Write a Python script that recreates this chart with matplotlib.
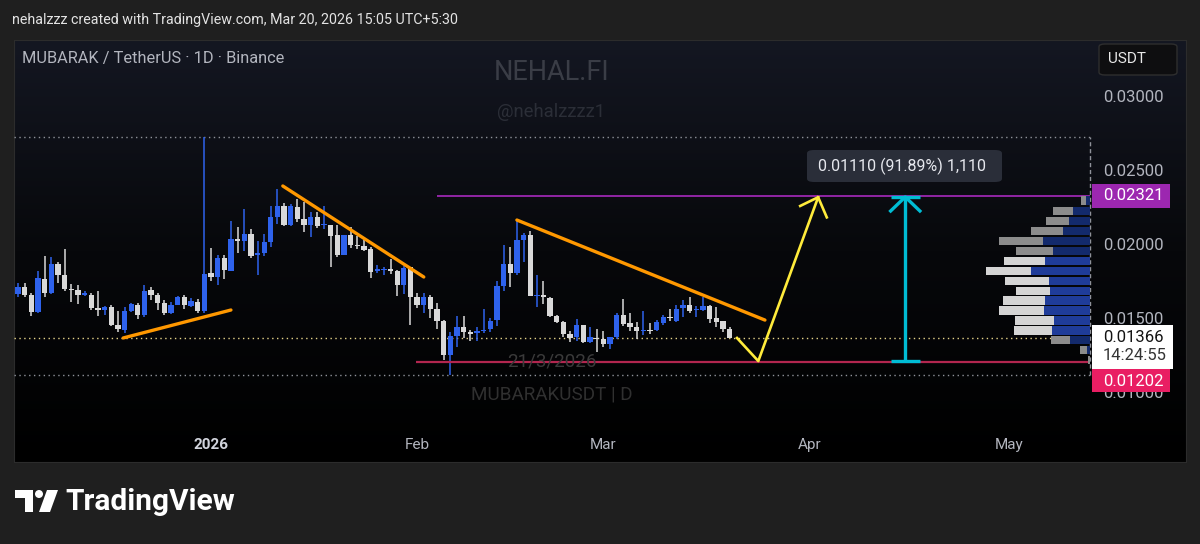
import numpy as np
import pandas as pd
import matplotlib
matplotlib.use('Agg')
import matplotlib.pyplot as plt
import matplotlib.dates as mdates
from matplotlib.colors import LinearSegmentedColormap
from matplotlib.patches import Rectangle, FancyBboxPatch, Polygon, Ellipse

plt.rcParams['font.family'] = ['Roboto', 'DejaVu Sans']

# daily candles, MUBARAK/USDT
dates = pd.date_range('2025-12-03', periods=108, freq='D')
opens = [.01662, .01707, .01658, .01541, .01766, .01667, .01865, .01793, .01698, .01689,
         .01658, .01658, .01568, .01554, .01577, .01455, .01419, .01550, .01590, .01518,
         .01689, .01658, .01599, .01532, .01590, .01644, .01581, .01608, .01545, .01802,
         .01779, .01905, .01820, .02032, .02018, .02068, .01928, .01937, .02014, .02180,
         .02257, .02131, .02252, .02171, .02131, .02180, .02127, .02126, .02059, .01928,
         .02059, .01996, .01987, .01969, .01820, .01825, .01829, .01816, .01726, .01842,
         .01644, .01590, .01640, .01563, .01482, .01248, .01378, .01437, .01405, .01396,
         .01410, .01424, .01487, .01716, .01865, .01802, .02027, .02059, .01649, .01653,
         .01635, .01514, .01473, .01392, .01369, .01450, .01338, .01365, .01360, .01324,
         .01369, .01522, .01464, .01437, .01414, .01419, .01419, .01469, .01509, .01482,
         .01568, .01586, .01551, .01554, .01581, .01500, .01477, .01423]
highs = [.01739, .01739, .01671, .01820, .01919, .01910, .01879, .01964, .01730, .01721,
         .01685, .01671, .01685, .01581, .01590, .01550, .01572, .01604, .01599, .01721,
         .01707, .01667, .01622, .01608, .01649, .01653, .01635, .01626, .02721, .01973,
         .01923, .01928, .02153, .02118, .02239, .02099, .02018, .02068, .02257, .02374,
         .02279, .02270, .02306, .02284, .02216, .02216, .02257, .02131, .02131, .02059,
         .02117, .02054, .02027, .01978, .01856, .01847, .01897, .01825, .01852, .01847,
         .01671, .01671, .01658, .01604, .01486, .01403, .01514, .01514, .01419, .01441,
         .01563, .01500, .01752, .01996, .01978, .02167, .02077, .02086, .01788, .01748,
         .01640, .01518, .01477, .01410, .01491, .01455, .01437, .01423, .01410, .01374,
         .01532, .01626, .01532, .01473, .01550, .01469, .01487, .01518, .01563, .01586,
         .01622, .01644, .01581, .01644, .01586, .01577, .01479, .01437]
lows = [.01644, .01640, .01514, .01536, .01644, .01662, .01734, .01680, .01608, .01595,
        .01649, .01554, .01514, .01518, .01446, .01406, .01397, .01541, .01491, .01505,
        .01622, .01554, .01523, .01527, .01586, .01563, .01572, .01536, .01532, .01752,
        .01721, .01766, .01815, .01937, .01955, .01906, .01789, .01919, .01982, .02135,
        .02122, .02122, .02149, .02081, .02050, .02108, .02104, .01847, .01910, .01924,
        .01973, .01964, .01951, .01770, .01802, .01789, .01798, .01649, .01662, .01451,
        .01568, .01536, .01500, .01424, .01216, .01115, .01306, .01365, .01347, .01347,
        .01396, .01406, .01446, .01680, .01712, .01788, .01878, .01649, .01577, .01595,
        .01505, .01464, .01374, .01338, .01347, .01329, .01334, .01270, .01302, .01293,
        .01360, .01446, .01410, .01360, .01383, .01392, .01410, .01451, .01482, .01473,
        .01509, .01532, .01509, .01550, .01464, .01442, .01405, .01365]
closes = [.01707, .01658, .01541, .01770, .01671, .01865, .01793, .01698, .01689, .01653,
          .01667, .01568, .01554, .01577, .01455, .01424, .01550, .01595, .01518, .01680,
          .01658, .01599, .01532, .01590, .01640, .01590, .01613, .01545, .01797, .01779,
          .01905, .01824, .02032, .02023, .02068, .01919, .01937, .02014, .02180, .02257,
          .02131, .02257, .02171, .02131, .02180, .02122, .02136, .02054, .01928, .02059,
          .01996, .01987, .01960, .01811, .01829, .01834, .01816, .01726, .01838, .01644,
          .01590, .01640, .01563, .01482, .01248, .01378, .01437, .01405, .01392, .01414,
          .01419, .01478, .01716, .01865, .01802, .02027, .02063, .01649, .01658, .01640,
          .01514, .01473, .01392, .01365, .01450, .01338, .01374, .01356, .01324, .01369,
          .01522, .01460, .01442, .01414, .01419, .01414, .01473, .01509, .01500, .01563,
          .01586, .01545, .01560, .01581, .01496, .01473, .01423, .01366]

# drawings: (days after 1 Jan 2026, price)
trend1_d, trend1_p = [-13.2, 3.0], [0.01365, 0.01554]
trend2_d, trend2_p = [10.8, 32.0], [0.02392, 0.01777]
trend3_d, trend3_p = [46.0, 83.3], [0.02162, 0.01486]
path_d, path_p = [79.1, 82.3, 91.3], [0.01365, 0.01209, 0.02316]
head_d, head_p = [88.6, 91.3, 92.6], [0.02257, 0.02316, 0.02180]
measure_d = 104.4
measure_lo, measure_hi = 0.01208, 0.02318
resist, resist_from = 0.02321, 34.0
support, support_from = 0.01202, 30.8
last_price = 0.01366
range_hi, range_lo = 0.02721, 0.01115

# volume profile rows
vp_prices = [0.02293, 0.02223, 0.02155, 0.02088, 0.02020, 0.01953, 0.01885, 0.01818, 0.01750,
             0.01682, 0.01620, 0.01552, 0.01484, 0.01417, 0.01351, 0.01284, 0.01216]
vp_up = [4, 17, 21, 27, 47, 37, 45, 59, 41, 40, 45, 46, 36, 38, 20, 3, 0]
vp_down = [5, 20, 23, 32, 44, 37, 41, 45, 44, 34, 42, 45, 39, 38, 19, 7, 2]
vp_in_value_area = [False] * 6 + [True] * 8 + [False] * 3

price_ticks = [0.010, 0.015, 0.020, 0.025, 0.030]
month_ticks = ['2026-01-01', '2026-02-01', '2026-03-01', '2026-04-01', '2026-05-01']
month_labels = ['2026', 'Feb', 'Mar', 'Apr', 'May']

W, H = 1200, 544
fig = plt.figure(figsize=(12, 5.44), dpi=100)
fig.patch.set_facecolor('#1f1f1f')


def fx(x):
    return x / W


def fy(y):
    return 1 - y / H


# chart panel
bg = fig.add_axes([fx(14), fy(462), (1186 - 14) / W, (462 - 40) / H])
cmap = LinearSegmentedColormap.from_list('panel', ['#141722', '#07080b', '#000000'])
bg.imshow(np.linspace(0, 1, 256)[:, None], aspect='auto', cmap=cmap, extent=[0, 1, 0, 1])
bg.set_xticks([])
bg.set_yticks([])
for s in bg.spines.values():
    s.set_color('#2c2c2c')

ax = fig.add_axes([fx(14), fy(425), (1092 - 14) / W, (425 - 40) / H])
ax.set_facecolor('none')
for s in ax.spines.values():
    s.set_visible(False)

jan1 = mdates.date2num(pd.Timestamp('2026-01-01'))
xs = mdates.date2num(dates)
o, h, l, c = map(np.array, (opens, highs, lows, closes))
up = c >= o
cols = np.where(up, '#2e62ec', '#d9d9d9')
ax.vlines(xs, l, h, colors=cols, lw=1.1, zorder=3)
body_lo = np.minimum(o, c)
body_h = np.maximum(np.abs(c - o), 0.00004)
ax.bar(xs, body_h, bottom=body_lo, width=0.8, color=cols, linewidth=0, zorder=4)

right_end = jan1 + 132.2
left_end = jan1 - 29.6
ax.hlines([range_hi, range_lo], left_end, right_end, colors='#8f929a', lw=1, linestyles=(0, (1, 2.5)), zorder=2)
ax.hlines(last_price, left_end, right_end, colors='#e6d48a', lw=1, linestyles=(0, (1, 2.5)), zorder=2)
ax.vlines(right_end, range_lo, range_hi, colors='#8f929a', lw=1, linestyles=(0, (3, 2)), zorder=2)

ax.hlines(resist, jan1 + resist_from, right_end, colors='#9c27b0', lw=1.3, zorder=5)
ax.hlines(support, jan1 + support_from, right_end, colors='#b3264f', lw=1.6, zorder=5)

for d, p in [(trend1_d, trend1_p), (trend2_d, trend2_p), (trend3_d, trend3_p)]:
    ax.plot(jan1 + np.array(d), p, color='#ff9800', lw=2.4, solid_capstyle='round', zorder=6)
ax.plot(jan1 + np.array(path_d), path_p, color='#ffeb3b', lw=1.9, zorder=6)
ax.plot(jan1 + np.array(head_d), head_p, color='#ffeb3b', lw=1.9, zorder=6)

mx = jan1 + measure_d
ax.vlines(mx, measure_lo, measure_hi, colors='#00bcd4', lw=2.4, zorder=6)
ax.hlines([measure_lo, measure_hi], mx - 2.2, mx + 2.2, colors='#00bcd4', lw=2.4, zorder=6)
ax.plot([mx - 2.2, mx, mx + 2.2], [measure_hi - 0.00095, measure_hi, measure_hi - 0.00095],
        color='#00bcd4', lw=2.4, zorder=6)

ax.set_xlim(jan1 - 29.62, jan1 + 132.48)
ax.set_ylim(0.00777, 0.033784)
ax.yaxis.tick_right()
ax.set_yticks(price_ticks)
ax.set_yticklabels(['%.5f' % t for t in price_ticks])
ax.tick_params(axis='y', length=0, pad=8, labelsize=12, labelcolor='#b2b5be')
ax.set_xticks(mdates.date2num(pd.to_datetime(month_ticks)))
ax.set_xticklabels(month_labels)
ax.tick_params(axis='x', length=0, pad=9.5, labelsize=11, labelcolor='#b2b5be')
ax.get_xticklabels()[0].set_fontweight('bold')
ax.get_xticklabels()[0].set_color('#d1d4dc')

# volume profile, anchored at the right edge
vp = fig.add_axes(ax.get_position(), sharey=ax)
vp.set_facecolor('none')
vp.set_xlim(1076, -2)
vp.axis('off')
up_cols = ['#1f3c99' if v else '#132a6c' for v in vp_in_value_area]
dn_cols = ['#d4d4d4' if v else '#8c8c8c' for v in vp_in_value_area]
vp.barh(vp_prices, vp_up, height=0.00058, color=up_cols, linewidth=0, zorder=3)
vp.barh(vp_prices, vp_down, left=vp_up, height=0.00058, color=dn_cols, linewidth=0, zorder=3)
ax.set_ylim(0.00777, 0.033784)

# texts
fig.text(fx(12), fy(20), 'nehalzzz created with TradingView.com, Mar 20, 2026 15:05 UTC+5:30',
         fontsize=10.3, color='#e3e3e3', va='center')
fig.text(fx(22), fy(58), 'MUBARAK / TetherUS · 1D · Binance', fontsize=11.8, color='#b2b5be', va='center')
fig.text(fx(552), fy(73), 'NEHAL.FI', fontsize=19.5, color='#3a3d46', ha='center', va='center')
fig.text(fx(551), fy(112), '@nehalzzzz1', fontsize=13.3, color='#2b2e37', ha='center', va='center')
fig.text(fx(552), fy(362), '21/3/2026', fontsize=13.5, color='#3a3a3a', ha='center', va='center')
fig.text(fx(552), fy(394), 'MUBARAKUSDT | D', fontsize=13.6, color='#303030', ha='center', va='center')

fig.patches.append(FancyBboxPatch((fx(1099), fy(75)), (1177 - 1099) / W, 31 / H,
                                  boxstyle='round,pad=0,rounding_size=0.005', transform=fig.transFigure,
                                  facecolor='#0e0e10', edgecolor='#2e2e2e', lw=1))
fig.text(fx(1108), fy(59), 'USDT', fontsize=11, color='#e8e8e8', va='center')

fig.patches.append(FancyBboxPatch((fx(807), fy(182)), (1002 - 807) / W, 32 / H,
                                  boxstyle='round,pad=0,rounding_size=0.006', transform=fig.transFigure,
                                  facecolor='#2a2e39', edgecolor='none'))
fig.text(fx(818), fy(166), '0.01110 (91.89%) 1,110', fontsize=11.5, color='#e6e8ee', va='center')

# price tags
fig.patches.append(Rectangle((fx(1092), fy(208)), 78 / W, 24 / H, transform=fig.transFigure,
                             facecolor='#9c27b0', edgecolor='none'))
fig.text(fx(1103), fy(196), '0.02321', fontsize=12, color='white', va='center')
fig.patches.append(Rectangle((fx(1092), fy(369)), 81 / W, 44 / H, transform=fig.transFigure,
                             facecolor='white', edgecolor='none'))
fig.text(fx(1103), fy(338), '0.01366', fontsize=12, color='#131313', va='center')
fig.text(fx(1103), fy(356), '14:24:55', fontsize=12, color='#333333', va='center')
fig.patches.append(Rectangle((fx(1092), fy(392)), 78 / W, 23 / H, transform=fig.transFigure,
                             facecolor='#e91e63', edgecolor='none'))
fig.text(fx(1103), fy(381), '0.01202', fontsize=12, color='white', va='center')

# TradingView logo
fig.patches.append(Polygon([(fx(15), fy(490)), (fx(33), fy(490)), (fx(33), fy(512)), (fx(25), fy(512)),
                            (fx(25), fy(498)), (fx(15), fy(498))], closed=True,
                           transform=fig.transFigure, facecolor='white', edgecolor='none'))
fig.patches.append(Ellipse((fx(39), fy(494)), 8 / W, 8 / H, transform=fig.transFigure,
                           facecolor='white', edgecolor='none'))
fig.patches.append(Polygon([(fx(47), fy(490)), (fx(58), fy(490)), (fx(50), fy(512)), (fx(39), fy(512))],
                           closed=True, transform=fig.transFigure, facecolor='white', edgecolor='none'))
fig.text(fx(65), fy(502), 'TradingView', fontsize=21.5, fontweight='bold', color='white', va='center')

plt.savefig('out.png', dpi=100, facecolor=fig.get_facecolor())
